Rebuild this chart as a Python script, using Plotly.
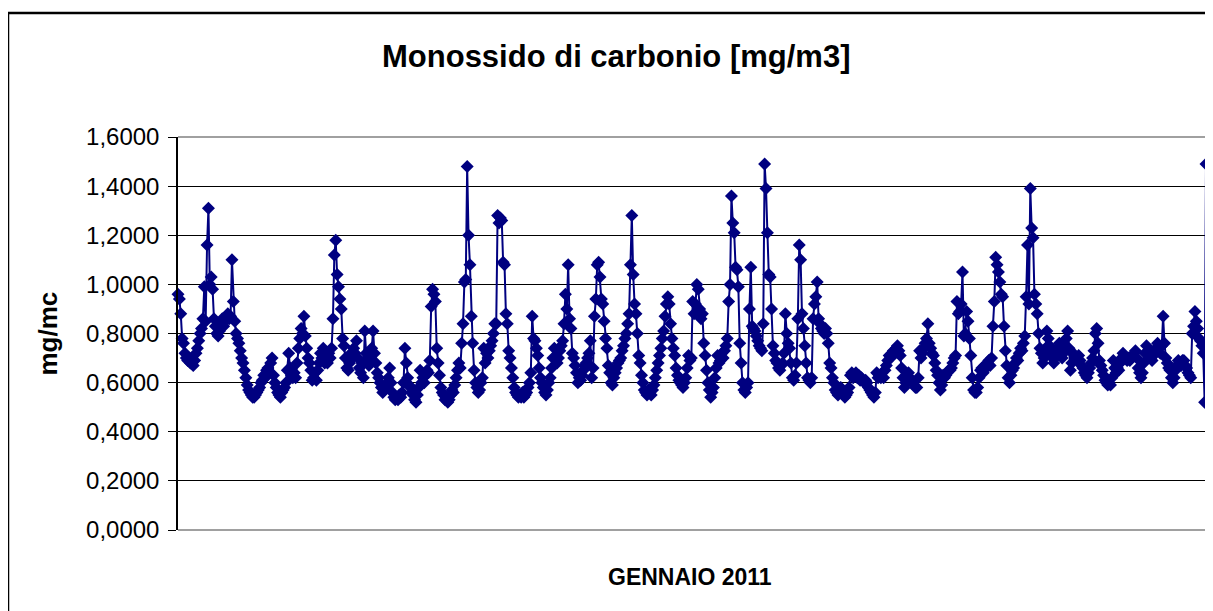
import plotly.graph_objects as go

# Hourly CO concentrations, January 2011 (mg/m3), one list per day (24 hours)
day01 = [0.96, 0.94, 0.88, 0.78, 0.76, 0.72, 0.70, 0.69, 0.70, 0.68, 0.68, 0.67, 0.69, 0.72, 0.74, 0.77, 0.80, 0.82, 0.86, 0.99, 0.85, 1.16, 1.31, 1.00]
day02 = [1.03, 0.98, 0.86, 0.83, 0.80, 0.79, 0.81, 0.84, 0.86, 0.83, 0.85, 0.87, 0.88, 0.86, 0.87, 1.10, 0.93, 0.85, 0.80, 0.78, 0.76, 0.73, 0.70, 0.68]
day03 = [0.65, 0.62, 0.59, 0.57, 0.56, 0.55, 0.54, 0.54, 0.55, 0.56, 0.57, 0.58, 0.60, 0.61, 0.63, 0.62, 0.65, 0.66, 0.64, 0.68, 0.70, 0.63, 0.60, 0.58]
day04 = [0.56, 0.55, 0.54, 0.56, 0.57, 0.58, 0.60, 0.65, 0.72, 0.66, 0.63, 0.62, 0.64, 0.62, 0.68, 0.74, 0.78, 0.82, 0.80, 0.87, 0.79, 0.74, 0.70, 0.68]
day05 = [0.65, 0.61, 0.62, 0.64, 0.61, 0.65, 0.68, 0.72, 0.70, 0.74, 0.68, 0.69, 0.68, 0.72, 0.70, 0.74, 0.86, 1.12, 1.18, 1.04, 0.99, 0.94, 0.90, 0.78]
day06 = [0.75, 0.70, 0.66, 0.65, 0.68, 0.72, 0.70, 0.74, 0.72, 0.77, 0.70, 0.66, 0.64, 0.68, 0.62, 0.81, 0.72, 0.70, 0.67, 0.70, 0.74, 0.81, 0.72, 0.68]
day07 = [0.64, 0.62, 0.60, 0.58, 0.56, 0.57, 0.59, 0.58, 0.62, 0.66, 0.60, 0.56, 0.54, 0.53, 0.54, 0.53, 0.55, 0.54, 0.56, 0.60, 0.74, 0.68, 0.62, 0.59]
day08 = [0.58, 0.56, 0.55, 0.53, 0.52, 0.55, 0.58, 0.65, 0.60, 0.62, 0.60, 0.63, 0.65, 0.64, 0.69, 0.91, 0.98, 0.96, 0.93, 0.74, 0.68, 0.63, 0.58, 0.56]
day09 = [0.55, 0.53, 0.54, 0.52, 0.53, 0.55, 0.57, 0.56, 0.59, 0.62, 0.65, 0.68, 0.66, 0.76, 0.84, 1.01, 1.02, 1.48, 1.20, 1.08, 0.87, 0.76, 0.65, 0.60]
day10 = [0.58, 0.56, 0.57, 0.60, 0.62, 0.74, 0.68, 0.72, 0.70, 0.73, 0.75, 0.77, 0.80, 0.84, 0.84, 1.28, 1.25, 1.27, 1.26, 1.09, 1.08, 0.88, 0.84, 0.73]
day11 = [0.70, 0.66, 0.62, 0.58, 0.56, 0.55, 0.54, 0.55, 0.54, 0.56, 0.54, 0.55, 0.56, 0.58, 0.60, 0.64, 0.87, 0.78, 0.77, 0.74, 0.71, 0.66, 0.62, 0.60]
day12 = [0.58, 0.56, 0.55, 0.57, 0.60, 0.62, 0.66, 0.70, 0.74, 0.70, 0.68, 0.70, 0.73, 0.75, 0.77, 0.84, 0.96, 0.90, 1.08, 0.86, 0.82, 0.72, 0.70, 0.67]
day13 = [0.64, 0.60, 0.62, 0.61, 0.63, 0.65, 0.67, 0.68, 0.70, 0.72, 0.77, 0.62, 0.66, 0.87, 0.94, 1.08, 1.09, 1.03, 0.94, 0.92, 0.85, 0.78, 0.74, 0.67]
day14 = [0.64, 0.60, 0.59, 0.62, 0.64, 0.66, 0.68, 0.69, 0.70, 0.73, 0.75, 0.78, 0.80, 0.84, 0.88, 1.08, 1.28, 1.04, 0.92, 0.88, 0.80, 0.71, 0.68, 0.63]
day15 = [0.60, 0.57, 0.56, 0.55, 0.57, 0.56, 0.55, 0.57, 0.59, 0.62, 0.65, 0.68, 0.71, 0.74, 0.78, 0.81, 0.87, 0.92, 0.95, 0.92, 0.84, 0.78, 0.74, 0.71]
day16 = [0.66, 0.63, 0.61, 0.60, 0.59, 0.58, 0.60, 0.62, 0.66, 0.71, 0.69, 0.70, 0.93, 0.88, 0.92, 1.00, 0.98, 0.90, 0.86, 0.88, 0.76, 0.71, 0.65, 0.60]
day17 = [0.57, 0.54, 0.56, 0.58, 0.62, 0.66, 0.71, 0.68, 0.69, 0.72, 0.70, 0.73, 0.75, 0.78, 0.93, 1.00, 1.36, 1.25, 1.21, 1.07, 1.06, 0.99, 0.76, 0.68]
day18 = [0.60, 0.57, 0.56, 0.58, 0.60, 0.90, 1.07, 0.83, 0.82, 0.81, 0.79, 0.77, 0.75, 0.74, 0.73, 0.84, 1.49, 1.39, 1.21, 1.04, 1.03, 0.90, 0.75, 0.72]
day19 = [0.69, 0.68, 0.66, 0.65, 0.67, 0.68, 0.72, 0.88, 0.80, 0.76, 0.74, 0.68, 0.62, 0.61, 0.63, 0.68, 0.86, 1.16, 1.10, 0.88, 0.82, 0.75, 0.68, 0.62]
day20 = [0.61, 0.60, 0.62, 0.86, 0.92, 0.95, 1.01, 0.86, 0.84, 0.82, 0.81, 0.80, 0.82, 0.80, 0.76, 0.68, 0.66, 0.62, 0.60, 0.57, 0.56, 0.55, 0.56, 0.58]
day21 = [0.56, 0.55, 0.54, 0.55, 0.56, 0.58, 0.63, 0.64, 0.62, 0.63, 0.64, 0.62, 0.63, 0.61, 0.62, 0.61, 0.60, 0.61, 0.60, 0.58, 0.57, 0.56, 0.55, 0.54]
day22 = [0.56, 0.64, 0.62, 0.63, 0.62, 0.64, 0.62, 0.65, 0.67, 0.69, 0.71, 0.70, 0.72, 0.73, 0.72, 0.74, 0.75, 0.73, 0.71, 0.66, 0.62, 0.58, 0.60, 0.63]
day23 = [0.64, 0.62, 0.61, 0.60, 0.59, 0.58, 0.58, 0.62, 0.73, 0.70, 0.72, 0.74, 0.76, 0.78, 0.84, 0.76, 0.74, 0.72, 0.71, 0.68, 0.65, 0.63, 0.60, 0.57]
day24 = [0.59, 0.63, 0.62, 0.63, 0.64, 0.65, 0.65, 0.66, 0.68, 0.70, 0.71, 0.93, 0.88, 0.89, 0.92, 1.05, 0.79, 0.80, 0.89, 0.85, 0.78, 0.71, 0.62, 0.57]
day25 = [0.56, 0.56, 0.58, 0.62, 0.65, 0.66, 0.64, 0.67, 0.66, 0.68, 0.69, 0.67, 0.70, 0.83, 0.93, 1.11, 1.08, 1.05, 1.01, 0.96, 0.95, 0.83, 0.73, 0.67]
day26 = [0.62, 0.60, 0.63, 0.65, 0.66, 0.68, 0.70, 0.69, 0.72, 0.74, 0.73, 0.76, 0.79, 0.95, 1.16, 0.92, 1.39, 1.23, 1.19, 0.96, 0.92, 0.88, 0.80, 0.74]
day27 = [0.72, 0.68, 0.70, 0.74, 0.81, 0.78, 0.75, 0.72, 0.70, 0.68, 0.70, 0.72, 0.74, 0.76, 0.74, 0.70, 0.72, 0.75, 0.78, 0.81, 0.74, 0.65, 0.68, 0.72]
day28 = [0.71, 0.70, 0.69, 0.71, 0.69, 0.67, 0.66, 0.64, 0.63, 0.62, 0.64, 0.66, 0.68, 0.70, 0.73, 0.80, 0.82, 0.76, 0.69, 0.67, 0.65, 0.63, 0.61, 0.60]
day29 = [0.59, 0.60, 0.59, 0.62, 0.69, 0.66, 0.64, 0.66, 0.65, 0.68, 0.70, 0.72, 0.71, 0.70, 0.69, 0.70, 0.69, 0.70, 0.71, 0.72, 0.73, 0.70, 0.66, 0.64]
day30 = [0.62, 0.64, 0.68, 0.72, 0.75, 0.73, 0.71, 0.70, 0.69, 0.71, 0.73, 0.74, 0.76, 0.74, 0.72, 0.75, 0.87, 0.76, 0.70, 0.68, 0.66, 0.65, 0.62, 0.60]
day31 = [0.62, 0.65, 0.67, 0.69, 0.68, 0.67, 0.69, 0.69, 0.67, 0.66, 0.64, 0.63, 0.62, 0.80, 0.83, 0.89, 0.85, 0.82, 0.78, 0.77, 0.75, 0.72, 0.52, 1.49]

days = [day01, day02, day03, day04, day05, day06, day07, day08, day09, day10,
        day11, day12, day13, day14, day15, day16, day17, day18, day19, day20,
        day21, day22, day23, day24, day25, day26, day27, day28, day29, day30, day31]

y_tick_values = [0.0, 0.2, 0.4, 0.6, 0.8, 1.0, 1.2, 1.4, 1.6]
y_tick_labels = ["0,0000", "0,2000", "0,4000", "0,6000", "0,8000",
                 "1,0000", "1,2000", "1,4000", "1,6000"]

title_text = "Monossido di carbonio [mg/m3]"
x_title = "GENNAIO 2011"
y_title = "mg/mc"

values = [v for d in days for v in d]
hours = list(range(len(values)))

NAVY = "#000080"
FONT = "Liberation Sans, Arial, sans-serif"

fig = go.Figure()
fig.add_trace(go.Scatter(
    x=hours, y=values, mode="lines+markers",
    line=dict(color=NAVY, width=2),
    marker=dict(symbol="diamond", size=10, color=NAVY, line=dict(width=0)),
    cliponaxis=False, showlegend=False,
))

W, H = 1213, 611
OFF = 8  # page body margin offset
# desired plot-area edges in window pixels
L, R, T, B = 178, 1206, 137, 530

def px(xw):
    return (xw - L) / (R - L)

def py(yw):
    return (B - yw) / (B - T)

shapes = [
    dict(type="line", xref="paper", yref="paper", x0=0, x1=1, y0=1, y1=1,
         line=dict(color="#808080", width=1.5), layer="above"),
    dict(type="line", xref="paper", yref="paper", x0=1, x1=1, y0=0, y1=1,
         line=dict(color="#808080", width=1.5), layer="above"),
    dict(type="line", xref="paper", yref="paper", x0=0, x1=1, y0=0, y1=0,
         line=dict(color="#808080", width=1.5), layer="above"),
    dict(type="line", xref="paper", yref="paper", x0=px(8), x1=px(1240), y0=py(13), y1=py(13),
         line=dict(color="black", width=2.5)),
    dict(type="line", xref="paper", yref="paper", x0=px(8), x1=px(8), y0=py(13), y1=py(650),
         line=dict(color="black", width=2.5)),
]

annotations = [
    dict(text=f"<b>{title_text}</b>", xref="paper", yref="paper",
         x=px(616), y=py(57), xanchor="center", yanchor="middle", showarrow=False,
         font=dict(family=FONT, size=31, color="black")),
    dict(text=f"<b>{x_title}</b>", xref="paper", yref="paper",
         x=px(690), y=py(577), xanchor="center", yanchor="middle", showarrow=False,
         font=dict(family=FONT, size=23, color="black")),
    dict(text=f"<b>{y_title}</b>", xref="paper", yref="paper",
         x=px(47), y=0.5, xanchor="center", yanchor="middle", showarrow=False,
         textangle=-90, font=dict(family=FONT, size=26, color="black")),
]

fig.update_layout(
    width=W, height=H,
    margin=dict(l=L - OFF, r=W - (R - OFF), t=T - OFF, b=H - (B - OFF), pad=0),
    paper_bgcolor="white", plot_bgcolor="white",
    font=dict(family=FONT, color="black"),
    shapes=shapes, annotations=annotations,
    xaxis=dict(range=[0, len(values) - 1], showticklabels=False, showgrid=False,
               zeroline=False, showline=False, ticks=""),
    yaxis=dict(range=[0, 1.6], tickvals=y_tick_values, ticktext=y_tick_labels,
               ticks="outside", ticklen=8, tickwidth=1, tickcolor="black",
               showline=True, linecolor="black", linewidth=1.5,
               showgrid=True, gridcolor="black", gridwidth=1, zeroline=False,
               tickfont=dict(family=FONT, size=24, color="black"),
               ticklabelstandoff=4),
)

fig.write_html("out.html")
